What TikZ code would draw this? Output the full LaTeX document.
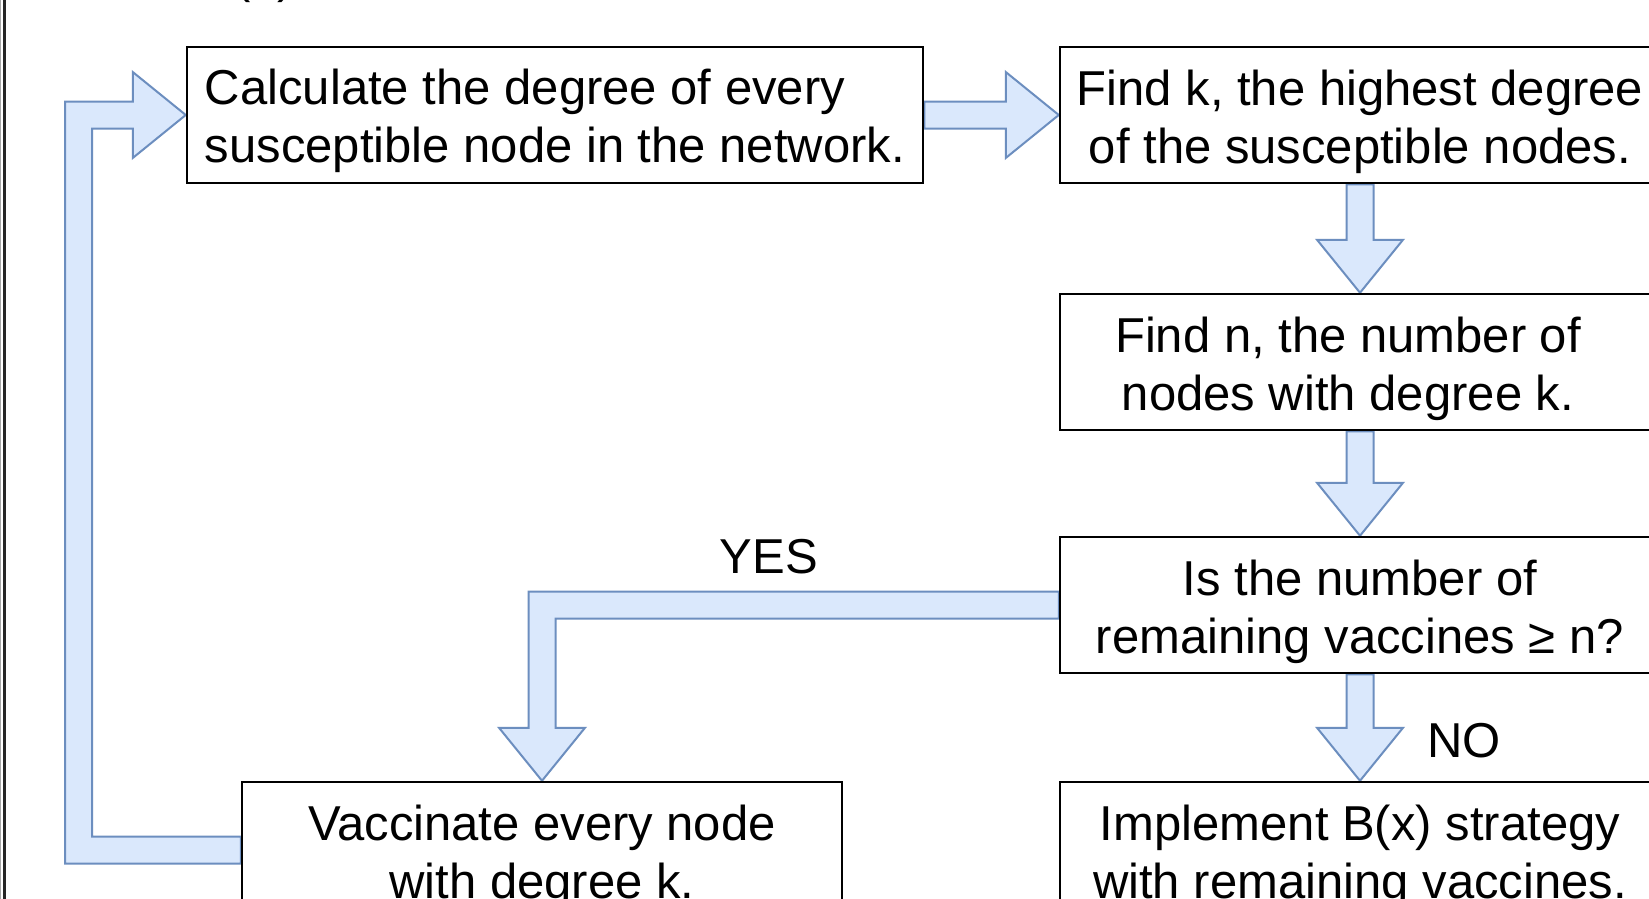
\documentclass[tikz,border=0pt]{standalone}
\usepackage{fontspec}
\setmainfont{Liberation Sans}
\usetikzlibrary{calc}
\definecolor{arrowfill}{RGB}{218,232,252}
\definecolor{arrowline}{RGB}{108,142,191}
\begin{document}
\begin{tikzpicture}[x=1pt,y=-1pt,
  stepbox/.style={draw=black,line width=2.5pt,fill=white,minimum width=600pt,minimum height=136pt,inner sep=0pt},
  blockarrow/.style={draw=arrowline,fill=arrowfill,line width=2pt,line join=miter},
  lbl/.style={inner sep=0pt,align=center,font=\fontsize{49}{58}\selectfont}]
\useasboundingbox (0,0) rectangle (1649,899);
\clip (0,0) rectangle (1649,899);
\fill[white] (0,0) rectangle (1649,899);
% frame edge on the left
\draw[line width=1pt,black!35] (0.5,0) -- (0.5,899);
\draw[line width=3pt,black!85] (4.5,0) -- (4.5,899);
% panel tag, mostly above the visible area
\node[lbl,anchor=base] (tag) at (264,-7) {(a)};

% arrow dimensions: shaft half width, head half width, head length
\def\sw{13.5}\def\hw{43}\def\hl{53}

% box placement
\path (555,115) node[stepbox,draw=none,fill=none,minimum width=736pt] (b1) {}
      (1360,115) node[stepbox,draw=none,fill=none] (b2) {}
      (1360,362) node[stepbox,draw=none,fill=none] (b3) {}
      (1360,605) node[stepbox,draw=none,fill=none] (b4) {}
      (1360,850) node[stepbox,draw=none,fill=none] (b5) {}
      (542,850) node[stepbox,draw=none,fill=none] (b6) {};

% b1 -> b2
\draw[blockarrow] ($(b1.east)+(0,-\sw)$) -- ($(b2.west)+(-\hl,-\sw)$) -- ($(b2.west)+(-\hl,-\hw)$)
  -- (b2.west) -- ($(b2.west)+(-\hl,\hw)$) -- ($(b2.west)+(-\hl,\sw)$) -- ($(b1.east)+(0,\sw)$) -- cycle;
% b2 -> b3
\draw[blockarrow] ($(b2.south)+(-\sw,0)$) -- ($(b3.north)+(-\sw,-\hl)$) -- ($(b3.north)+(-\hw,-\hl)$)
  -- (b3.north) -- ($(b3.north)+(\hw,-\hl)$) -- ($(b3.north)+(\sw,-\hl)$) -- ($(b2.south)+(\sw,0)$) -- cycle;
% b3 -> b4
\draw[blockarrow] ($(b3.south)+(-\sw,0)$) -- ($(b4.north)+(-\sw,-\hl)$) -- ($(b4.north)+(-\hw,-\hl)$)
  -- (b4.north) -- ($(b4.north)+(\hw,-\hl)$) -- ($(b4.north)+(\sw,-\hl)$) -- ($(b3.south)+(\sw,0)$) -- cycle;
% b4 -> b5 (NO)
\draw[blockarrow] ($(b4.south)+(-\sw,0)$) -- ($(b5.north)+(-\sw,-\hl)$) -- ($(b5.north)+(-\hw,-\hl)$)
  -- (b5.north) -- ($(b5.north)+(\hw,-\hl)$) -- ($(b5.north)+(\sw,-\hl)$) -- ($(b4.south)+(\sw,0)$) -- cycle;
% b4 -> b6 (YES)
\draw[blockarrow] ($(b4.west)+(0,-\sw)$) -- ($(b6.north|-b4.west)+(-\sw,-\sw)$)
  -- ($(b6.north)+(-\sw,-\hl)$) -- ($(b6.north)+(-\hw,-\hl)$) -- (b6.north)
  -- ($(b6.north)+(\hw,-\hl)$) -- ($(b6.north)+(\sw,-\hl)$) -- ($(b6.north|-b4.west)+(\sw,\sw)$)
  -- ($(b4.west)+(0,\sw)$) -- cycle;
% b6 -> b1 (loop back)
\coordinate (lp) at (78.5,0);
\draw[blockarrow] ($(b6.west)+(0,\sw)$) -- ($(lp|-b6.west)+(-\sw,\sw)$) -- ($(lp|-b1.west)+(-\sw,-\sw)$)
  -- ($(b1.west)+(-\hl,-\sw)$) -- ($(b1.west)+(-\hl,-\hw)$) -- (b1.west)
  -- ($(b1.west)+(-\hl,\hw)$) -- ($(b1.west)+(-\hl,\sw)$) -- ($(lp|-b1.west)+(\sw,\sw)$)
  -- ($(lp|-b6.west)+(\sw,-\sw)$) -- ($(b6.west)+(0,-\sw)$) -- cycle;

% box outlines on top of the arrow ends
\node[stepbox,minimum width=736pt] (f1) at (b1) {};
\node[stepbox] (f2) at (b2) {};
\node[stepbox] (f3) at (b3) {};
\node[stepbox] (f4) at (b4) {};
\node[stepbox] (f5) at (b5) {};
\node[stepbox] (f6) at (b6) {};

% box texts
\node[lbl] (t1) at ($(b1)+(0,7)$) {\begin{tabular}{@{}l@{}}Calculate the degree of every\\susceptible node in the network.\end{tabular}};
\node[lbl] (t2) at ($(b2)+(0,7)$) {Find k, the highest degree\\of the susceptible nodes.};
\node[lbl] (t3) at ($(b3)+(-12,7)$) {Find n, the number of\\nodes with degree k.};
\node[lbl] (t4) at ($(b4)+(0,7)$) {Is the number of\\remaining vaccines ≥ n?};
\node[lbl] (t5) at ($(b5)+(0,7)$) {Implement B(x) strategy\\with remaining vaccines.};
\node[lbl] (t6) at ($(b6)+(0,7)$) {Vaccinate every node\\with degree k.};

% branch labels
\node[lbl,anchor=base] (yes) at (769,573) {YES};
\node[lbl,anchor=base west] (no) at (1427,757) {NO};
\end{tikzpicture}
\end{document}
